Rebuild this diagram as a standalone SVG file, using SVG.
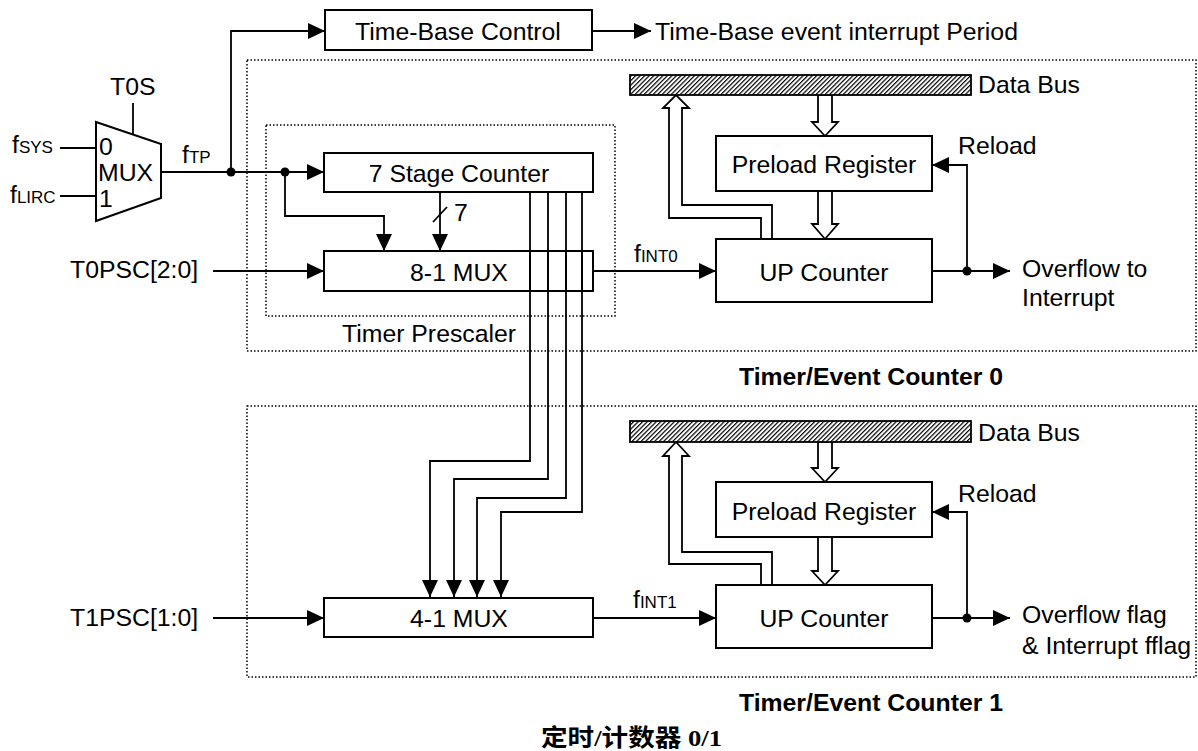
<svg xmlns="http://www.w3.org/2000/svg" width="1198" height="751" viewBox="0 0 1198 751">
<style>
text{font-family:"Liberation Sans",Arial,sans-serif;font-size:24.8px;fill:#000}
.sm{font-size:17px}
.b{font-weight:bold}
.c{text-anchor:middle}
.box{fill:#fff;stroke:#000;stroke-width:2}
.ln{fill:none;stroke:#000;stroke-width:1.8}
.ar{marker-end:url(#ah)}
.dt{fill:none;stroke:#000;stroke-width:1.5;stroke-dasharray:1.5 2}
.hol{fill:#fff;stroke:#000;stroke-width:1.8;stroke-linejoin:miter}
.bus{fill:url(#hatch);stroke:#000;stroke-width:1.8}
.cn{font-family:"Liberation Serif","Noto Sans CJK SC",serif;font-weight:bold;font-size:24px}
</style>
<defs>
<marker id="ah" markerUnits="userSpaceOnUse" markerWidth="17" markerHeight="16" refX="17" refY="8" orient="auto"><path d="M0,0 L17,8 L0,16 z" fill="#000"/></marker>
<pattern id="hatch" patternUnits="userSpaceOnUse" width="3.2" height="3.2" patternTransform="rotate(45)"><rect width="3.2" height="3.2" fill="#fff"/><line x1="0.6" y1="0" x2="0.6" y2="3.2" stroke="#000" stroke-width="1.2"/></pattern>
</defs>

<g id="frames">
<rect class="dt" x="247" y="60" width="949" height="291"/>
<rect class="dt" x="266" y="125" width="349" height="191"/>
<rect class="dt" x="247" y="406" width="949" height="271"/>
</g>

<g id="connectors">
<line class="ln" x1="60" y1="148" x2="96" y2="148"/>
<line class="ln" x1="60" y1="196" x2="96" y2="196"/>
<line class="ln" x1="133" y1="103" x2="133" y2="135"/>
<path class="ln" d="M161,172 H231"/>
<path class="ln ar" d="M231,172 V31 H325"/>
<path class="ln ar" d="M592,31 H651"/>
<path class="ln ar" d="M231,172 H324"/>
<path class="ln ar" d="M285,172 V216 H384 V251"/>
<path class="ln ar" d="M440,192 V251"/>
<line class="ln" x1="433" y1="222" x2="447" y2="207"/>
<path class="ln ar" d="M213,271 H324"/>
<path class="ln ar" d="M593,271 H716"/>
<path class="ln ar" d="M932,271 H1010"/>
<path class="ln ar" d="M967,271 V165 H932"/>
<path class="ln ar" d="M530,192 V461 H430 V597"/>
<path class="ln ar" d="M548,192 V479 H454 V597"/>
<path class="ln ar" d="M566,192 V498 H477 V597"/>
<path class="ln ar" d="M582,192 V512 H501 V597"/>
<path class="ln ar" d="M213,618 H324"/>
<path class="ln ar" d="M593,618 H716"/>
<path class="ln ar" d="M932,618 H1010"/>
<path class="ln ar" d="M967,618 V512 H932"/>
<circle cx="231" cy="172" r="4.5"/>
<circle cx="285" cy="172" r="4.5"/>
<circle cx="967" cy="271" r="4.5"/>
<circle cx="967" cy="618" r="4.5"/>
<polygon class="hol" points="818,95 818,122 812,122 825,136 838,122 832,122 832,95"/>
<polygon class="hol" points="818,191 818,224 812,224 825,239 838,224 832,224 832,191"/>
<path class="hol" d="M761,239 V218 H669 V108 H663 L676,95 L689,108 H682 V205 H772 V239"/>
<polygon class="hol" points="818,442 818,468 812,468 825,482 838,468 832,468 832,442"/>
<polygon class="hol" points="818,537 818,571 812,571 825,585 838,571 832,571 832,537"/>
<path class="hol" d="M761,585 V564 H669 V456 H663 L676,442 L689,456 H682 V552 H772 V585"/>
</g>

<g id="mux0">
<polygon class="box" points="96,122 161,144 161,198 96,221"/>
<text x="99" y="155">0</text>
<text x="98" y="181">MUX</text>
<text x="99" y="207">1</text>
</g>
<g id="tbc"><rect class="box" x="325" y="10" width="267" height="40"/><text class="c" x="458" y="40">Time-Base Control</text></g>
<g id="stage7"><rect class="box" x="324" y="153" width="269" height="39"/><text class="c" x="459" y="182">7 Stage Counter</text></g>
<g id="mux81"><rect class="box" x="324" y="251" width="269" height="40" fill-opacity="0"/><text class="c" x="459" y="281">8-1 MUX</text></g>
<g id="bus0"><rect class="bus" x="630" y="75" width="341" height="20"/></g>
<g id="pre0"><rect class="box" x="716" y="136" width="216" height="55"/><text class="c" x="824" y="173">Preload Register</text></g>
<g id="up0"><rect class="box" x="716" y="239" width="216" height="63"/><text class="c" x="824" y="281">UP Counter</text></g>
<g id="mux41"><rect class="box" x="324" y="598" width="269" height="39"/><text class="c" x="459" y="627">4-1 MUX</text></g>
<g id="bus1"><rect class="bus" x="630" y="421" width="341" height="21"/></g>
<g id="pre1"><rect class="box" x="716" y="482" width="216" height="55"/><text class="c" x="824" y="520">Preload Register</text></g>
<g id="up1"><rect class="box" x="716" y="585" width="216" height="63"/><text class="c" x="824" y="627">UP Counter</text></g>

<g id="vlines-over">
<line class="ln" x1="530" y1="251" x2="530" y2="291"/>
<line class="ln" x1="548" y1="251" x2="548" y2="291"/>
<line class="ln" x1="566" y1="251" x2="566" y2="291"/>
<line class="ln" x1="582" y1="251" x2="582" y2="291"/>
</g>

<g id="labels">
<text x="110" y="95">T0S</text>
<text x="12" y="153">f<tspan class="sm">SYS</tspan></text>
<text x="10" y="203">f<tspan class="sm">LIRC</tspan></text>
<text x="182" y="163">f<tspan class="sm">TP</tspan></text>
<text x="655" y="40">Time-Base event interrupt Period</text>
<text x="454" y="221">7</text>
<text x="70" y="278">T0PSC[2:0]</text>
<text x="634" y="262">f<tspan class="sm">INT0</tspan></text>
<text x="958" y="154">Reload</text>
<text x="978" y="93">Data Bus</text>
<text x="1022" y="277">Overflow to</text>
<text x="1022" y="306">Interrupt</text>
<text x="342" y="342">Timer Prescaler</text>
<text class="b c" x="871" y="385">Timer/Event Counter 0</text>
<text x="978" y="441">Data Bus</text>
<text x="958" y="502">Reload</text>
<text x="70" y="626">T1PSC[1:0]</text>
<text x="633" y="608">f<tspan class="sm">INT1</tspan></text>
<text x="1022" y="623">Overflow flag</text>
<text x="1022" y="654">&amp; Interrupt fflag</text>
<text class="b c" x="871" y="711">Timer/Event Counter 1</text>
<text class="cn" x="541" y="746" textLength="181" lengthAdjust="spacingAndGlyphs">定时/计数器 0/1</text>
</g>
</svg>
